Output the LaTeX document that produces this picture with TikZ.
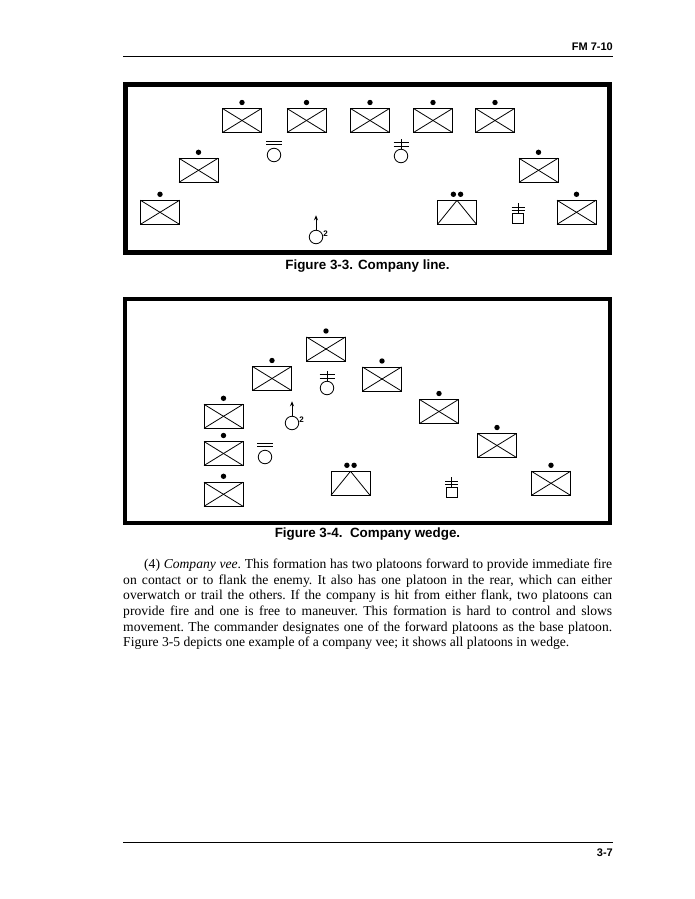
\documentclass[tikz,border=0pt]{standalone}
\usepackage{fontspec}
\setmainfont{Liberation Serif}
\newfontfamily\arialf{Liberation Sans}
\usetikzlibrary{arrows.meta}
\tikzset{
  x=1pt,y=-1pt,
  platoon/.style={draw,line width=1pt,minimum width=39pt,minimum height=24pt,inner sep=0pt,outer sep=0pt},
  diag/.style={line width=0.8pt},
  sdot/.style={circle,fill=black,minimum size=5.4pt,inner sep=0pt,outer sep=0pt},
  ring/.style={circle,draw,line width=0.8pt,minimum size=13.5pt,inner sep=0pt,outer sep=0pt},
  vehbox/.style={draw,line width=0.8pt,minimum width=11pt,minimum height=10pt,inner sep=0pt,outer sep=0pt},
  bar/.style={line width=0.8pt},
  frameline/.style={draw,line width=#1},
  caption/.style={font=\arialf\bfseries\fontsize{13.4}{15}\selectfont,inner sep=0pt,anchor=base},
  head/.style={font=\arialf\bfseries\fontsize{11}{13}\selectfont,inner sep=0pt,anchor=base east},
  rulel/.style={line width=1pt}
}
\newcommand{\platx}[3]{%
  \node[platoon] (#1) at (#2,#3) {};
  \draw[diag] (#1.north west) -- (#1.south east);
  \draw[diag] (#1.north east) -- (#1.south west);
  \node[sdot] (#1d) at ([yshift=6pt]#1.north) {};
}
\newcommand{\plattri}[3]{%
  \node[platoon] (#1) at (#2,#3) {};
  \draw[diag] (#1.north) -- (#1.south west);
  \draw[diag] (#1.north) -- (#1.south east);
  \node[sdot] (#1a) at ([xshift=-3.6pt,yshift=6pt]#1.north) {};
  \node[sdot] (#1b) at ([xshift=3.6pt,yshift=6pt]#1.north) {};
}
% circle with two bars above, no stem
\newcommand{\ringbars}[3]{%
  \node[ring] (#1) at (#2,#3) {};
  \draw[bar] ([xshift=-8pt,yshift=7.3pt]#1.north) -- ([xshift=8pt,yshift=7.3pt]#1.north);
  \draw[bar] ([xshift=-8pt,yshift=4.3pt]#1.north) -- ([xshift=8pt,yshift=4.3pt]#1.north);
}
% circle with stem crossed by two bars
\newcommand{\ringstem}[3]{%
  \node[ring] (#1) at (#2,#3) {};
  \coordinate (#1t) at ([yshift=10.5pt]#1.north);
  \draw[bar] (#1.north) -- (#1t);
  \draw[bar] ([xshift=-7.5pt,yshift=6.5pt]#1.north) -- ([xshift=7.5pt,yshift=6.5pt]#1.north);
  \draw[bar] ([xshift=-7.5pt,yshift=3pt]#1.north) -- ([xshift=7.5pt,yshift=3pt]#1.north);
}
\newcommand{\boxstem}[3]{%
  \node[vehbox] (#1) at (#2,#3) {};
  \coordinate (#1t) at ([yshift=10pt]#1.north);
  \draw[bar] (#1.north) -- (#1t);
  \draw[bar] ([xshift=-6.5pt,yshift=5.5pt]#1.north) -- ([xshift=6.5pt,yshift=5.5pt]#1.north);
  \draw[bar] ([xshift=-6.5pt,yshift=2.5pt]#1.north) -- ([xshift=6.5pt,yshift=2.5pt]#1.north);
}
\newcommand{\ringarrow}[3]{%
  \node[ring] (#1) at (#2,#3) {};
  \coordinate (#1t) at ([yshift=15pt]#1.north);
  \draw[bar,-{Stealth[length=5pt,width=4pt]}] (#1.north) -- (#1t);
  \node[inner sep=0pt,font=\arialf\bfseries\fontsize{8}{9}\selectfont] (#1n) at ([xshift=9.5pt,yshift=3pt]#1.center) {2};
}
\begin{document}
\begin{tikzpicture}
\useasboundingbox (0,0) rectangle (695,899);
\fill[white] (0,0) rectangle (695,899);

% header and footer
\node[head] (hdr) at (613,51) {FM 7-10};
\coordinate (hl) at (123,57); \coordinate (hr) at (613,57);
\draw[rulel] (hl) -- (hr);
\coordinate (fl) at (123,842); \coordinate (fr) at (613,842);
\draw[rulel] (fl) -- (fr);
\node[head] (ftr) at (613,856) {3-7};

% Figure 3-3
\draw[frameline=5.4pt] (125.6,84.6) rectangle (609.4,252.2);
\platx{a1}{242}{120.5}
\platx{a2}{306.5}{120.5}
\platx{a3}{370}{120.5}
\platx{a4}{433}{120.5}
\platx{a5}{495}{120.5}
\platx{a6}{198.5}{170.3}
\platx{a7}{160}{212.3}
\platx{a8}{538.5}{170.3}
\platx{a9}{576.5}{212.3}
\plattri{a10}{457}{212.3}
\ringbars{a11}{274}{155}
\ringstem{a12}{401}{156}
\boxstem{a13}{518}{218}
\ringarrow{a14}{316}{237}
\node[caption] (cap1) at (367.5,269.5) {Figure 3-3. Company line.};

% Figure 3-4
\draw[frameline=4pt] (125,299) rectangle (610,523);
\platx{b1}{326}{349}
\platx{b2}{272}{378.5}
\platx{b3}{382}{379}
\platx{b4}{223.5}{416.3}
\platx{b5}{223.5}{453.5}
\platx{b6}{223.5}{494.3}
\platx{b7}{439}{411.5}
\platx{b8}{497}{445.5}
\platx{b9}{551}{483.3}
\plattri{b10}{350.5}{483.3}
\ringstem{b11}{327}{388}
\ringarrow{b12}{292}{423}
\ringbars{b13}{265}{457}
\boxstem{b14}{451.5}{492}
\node[caption] (cap2) at (367.5,537.5) {Figure 3-4.\ \ Company wedge.};

% body text
\node[anchor=north west,inner sep=0pt,text width=489pt,align=justify,
      font=\frenchspacing\fontsize{13.6}{15.6}\selectfont] (body) at (123,559) {%
\hspace*{21pt}(4) \textit{Company vee}. This formation has two platoons forward to provide immediate fire\linebreak
on contact or to flank the enemy. It also has one platoon in the rear, which can either\linebreak
overwatch or trail the others. If the company is hit from either flank, two platoons can\linebreak
provide fire and one is free to maneuver. This formation is hard to control and slows\linebreak
movement. The commander designates one of the forward platoons as the base platoon.\linebreak
Figure 3-5 depicts one example of a company vee; it shows all platoons in wedge.};
\end{tikzpicture}
\end{document}
